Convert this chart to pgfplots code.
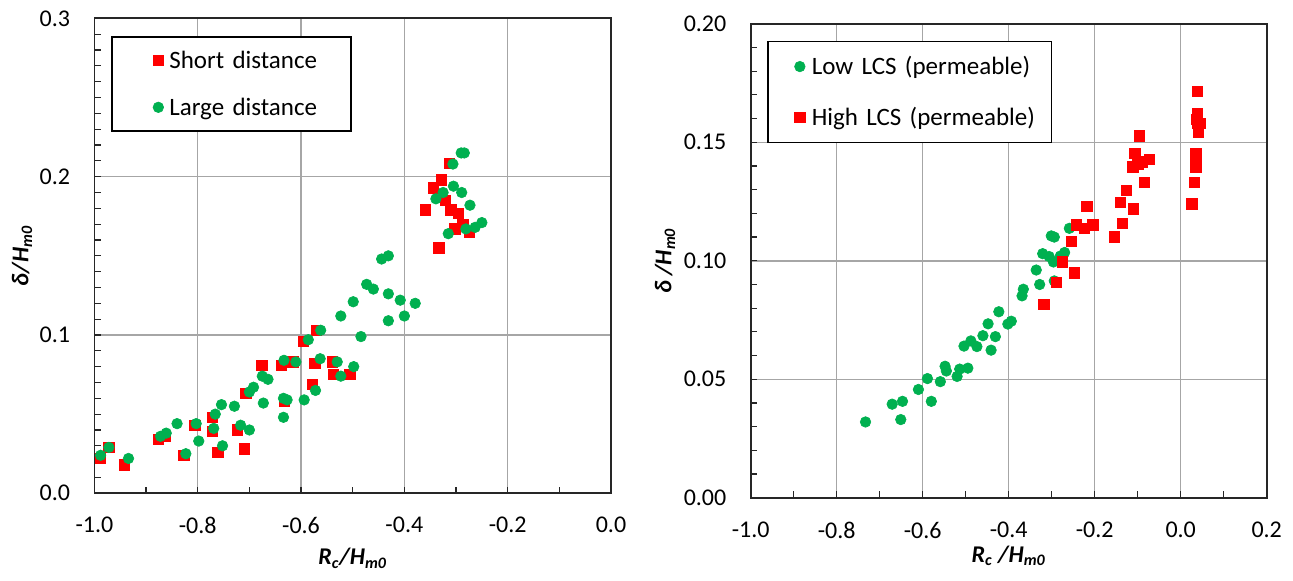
\documentclass[border=0pt]{standalone}
\usepackage{pgfplots}
\pgfplotsset{compat=1.18}
\usepackage{fontspec}
\setmainfont{Carlito}
\definecolor{xlgreen}{HTML}{00B050}
\definecolor{xlred}{HTML}{FF0000}
\definecolor{gridgray}{HTML}{A6A6A6}

\pgfplotsset{
  xlbase/.style={
    scale only axis, anchor=south west, clip=false,
    grid=major, major grid style={gridgray, line width=0.75pt},
    xtick pos=bottom, ytick pos=left, tick align=inside,
    major tick length=3.3pt, minor tick length=3.3pt,
    tick style={black!85, line width=0.6pt},
    minor tick style={black!85, line width=0.6pt},
    axis line style={black!85, line width=0.9pt},
    scaled ticks=false,
    ticklabel style={font=\fontsize{12}{14}\selectfont},
    xticklabel style={anchor=north, inner sep=0pt, yshift=-11.8pt,
      /pgf/number format/.cd, fixed, fixed zerofill, precision=1, assume math mode=true},
    yticklabel style={anchor=east, inner sep=0pt, xshift=-12pt},
    xlabel style={anchor=base, inner sep=0pt, font=\fontsize{12}{14}\selectfont\bfseries\itshape},
    ylabel style={anchor=center, inner sep=0pt, font=\fontsize{12}{14}\selectfont\bfseries\itshape},
    legend cell align=left,
  },
  sqmark/.style={only marks, mark=square*, mark size=2.6pt,
    mark options={fill=xlred, draw=xlred, line width=0.3pt}},
  cimark/.style={only marks, mark=*, mark size=2.65pt,
    mark options={fill=xlgreen, draw=xlgreen, line width=0.3pt}},
}

\begin{document}
\begin{tikzpicture}
\useasboundingbox (0,0) rectangle (646.5pt,290.5pt);

% ---------------- left chart ----------------
\begin{axis}[xlbase,
  at={(47.2pt,43.85pt)}, width=258.3pt, height=237.45pt,
  xmin=-1, xmax=0, ymin=0, ymax=0.3,
  xtick={-1,-0.8,-0.6,-0.4,-0.2,0}, minor x tick num=1,
  ytick={0,0.1,0.2,0.3}, minor y tick num=9,
  yticklabel style={/pgf/number format/.cd, fixed, fixed zerofill, precision=1, assume math mode=true},
  xlabel={R\textsubscript{c}/H\textsubscript{m0}},
  xlabel style={at={(axis description cs:0.5,0)}, yshift=-35.8pt},
  ylabel={δ/H\textsubscript{m0}},
  ylabel style={at={(axis description cs:-0.140,0.5)}},
  legend style={at={(0.0321,0.963)}, anchor=north west, draw=black, line width=0.85pt,
    inner xsep=0pt, inner ysep=7.75pt, row sep=15.5pt, column sep=0pt,
    font=\fontsize{12.5}{15}\selectfont,
    nodes={inner sep=0pt, text height=8pt, text depth=0pt, text width=91pt, align=left}},
  legend image code/.code={\path[draw=none,fill=none] (-23.25pt,0pt) -- (5.5pt,0pt); \draw[#1] plot coordinates {(0pt,0pt)};},
]
\addplot[sqmark] coordinates {
(-0.989,0.022) (-0.972,0.029) (-0.942,0.018) (-0.876,0.034) (-0.863,0.036)
(-0.827,0.024) (-0.806,0.043) (-0.772,0.048) (-0.772,0.039) (-0.761,0.026)
(-0.723,0.040) (-0.710,0.028) (-0.707,0.063) (-0.676,0.081) (-0.638,0.081)
(-0.632,0.058) (-0.616,0.083) (-0.596,0.096) (-0.578,0.069) (-0.573,0.082)
(-0.570,0.103) (-0.539,0.083) (-0.537,0.075) (-0.506,0.075)
(-0.360,0.179) (-0.344,0.193) (-0.328,0.198) (-0.333,0.155) (-0.313,0.2085)
(-0.321,0.185) (-0.310,0.179) (-0.296,0.177) (-0.287,0.170) (-0.302,0.167)
(-0.274,0.165)
};
\addlegendentry{Short distance}
\addplot[cimark] coordinates {
(-0.988,0.024) (-0.972,0.029) (-0.934,0.022) (-0.872,0.036) (-0.861,0.038)
(-0.840,0.044) (-0.823,0.025) (-0.803,0.044) (-0.798,0.033) (-0.769,0.041)
(-0.766,0.050) (-0.754,0.056) (-0.752,0.030) (-0.729,0.055) (-0.717,0.043)
(-0.700,0.040) (-0.700,0.064) (-0.692,0.067) (-0.673,0.057) (-0.675,0.074)
(-0.664,0.072) (-0.634,0.060) (-0.627,0.059) (-0.634,0.048) (-0.633,0.084)
(-0.610,0.083) (-0.594,0.059) (-0.586,0.097) (-0.572,0.065) (-0.562,0.103)
(-0.563,0.085) (-0.530,0.083) (-0.523,0.074) (-0.498,0.080) (-0.484,0.099)
(-0.523,0.112) (-0.499,0.121) (-0.473,0.132) (-0.460,0.129) (-0.444,0.148)
(-0.431,0.150) (-0.431,0.126) (-0.408,0.122) (-0.379,0.120) (-0.400,0.112)
(-0.431,0.109) (-0.339,0.186) (-0.325,0.190) (-0.315,0.164) (-0.306,0.208)
(-0.305,0.194) (-0.290,0.215) (-0.284,0.215) (-0.289,0.190) (-0.281,0.167)
(-0.273,0.182) (-0.263,0.168) (-0.250,0.171)
};
\addlegendentry{Large distance}
\end{axis}

% ---------------- right chart ----------------
\begin{axis}[xlbase,
  at={(375.35pt,41.6pt)}, width=258pt, height=237pt,
  xmin=-1, xmax=0.2, ymin=0, ymax=0.2,
  xtick={-1,-0.8,-0.6,-0.4,-0.2,0,0.2}, minor x tick num=1,
  ytick={0,0.05,0.1,0.15,0.2}, minor y tick num=4,
  yticklabel style={/pgf/number format/.cd, fixed, fixed zerofill, precision=2, assume math mode=true},
  xlabel={R\textsubscript{c} /H\textsubscript{m0}},
  xlabel style={at={(axis description cs:0.5,0)}, yshift=-32.2pt},
  ylabel={δ /H\textsubscript{m0}},
  ylabel style={at={(axis description cs:-0.166,0.5)}},
  legend style={at={(0.0316,0.9643)}, anchor=north west, draw=black, line width=0.85pt,
    inner xsep=0pt, inner ysep=8.5pt, row sep=17.5pt, column sep=0pt,
    font=\fontsize{12.5}{15}\selectfont,
    nodes={inner sep=0pt, text height=8pt, text depth=0pt, text width=119.85pt, align=left}},
  legend image code/.code={\path[draw=none,fill=none] (-16pt,0pt) -- (6pt,0pt); \draw[#1] plot coordinates {(0pt,0pt)};},
]
\addplot[cimark] coordinates {
(-0.733,0.0320) (-0.671,0.0395) (-0.647,0.0407) (-0.651,0.0330) (-0.610,0.0457)
(-0.589,0.0503) (-0.580,0.0407) (-0.559,0.0490) (-0.548,0.0555) (-0.545,0.0535)
(-0.520,0.0512) (-0.514,0.0543) (-0.495,0.0547) (-0.504,0.0640) (-0.488,0.0662)
(-0.474,0.0638) (-0.460,0.0684) (-0.448,0.0734) (-0.441,0.0623) (-0.431,0.0680)
(-0.423,0.0785) (-0.402,0.0733) (-0.394,0.0745) (-0.369,0.0852) (-0.366,0.0880)
(-0.336,0.0961) (-0.328,0.0900) (-0.321,0.1030) (-0.306,0.1018) (-0.296,0.0995)
(-0.301,0.1105) (-0.294,0.1100) (-0.294,0.0915) (-0.270,0.1035) (-0.280,0.1020)
(-0.259,0.1137)
};
\addlegendentry{Low LCS (permeable)}
\addplot[sqmark] coordinates {
(-0.318,0.0816) (-0.290,0.0910) (-0.275,0.0996) (-0.248,0.0949) (-0.254,0.1082)
(-0.243,0.1152) (-0.224,0.1136) (-0.218,0.1230) (-0.204,0.1152) (-0.154,0.1102)
(-0.136,0.1157) (-0.141,0.1246) (-0.126,0.1297) (-0.110,0.1219) (-0.111,0.1397)
(-0.107,0.1453) (-0.096,0.1527) (-0.090,0.1417) (-0.085,0.1332) (-0.073,0.1428)
(-0.100,0.1410)
(0.026,0.1241) (0.032,0.1332) (0.035,0.1397) (0.035,0.1413) (0.035,0.1453)
(0.039,0.1714) (0.038,0.1620) (0.039,0.1581) (0.046,0.1581) (0.041,0.1542)
(0.036,0.1597)
};
\addlegendentry{High LCS (permeable)}
\end{axis}
\end{tikzpicture}
\end{document}
